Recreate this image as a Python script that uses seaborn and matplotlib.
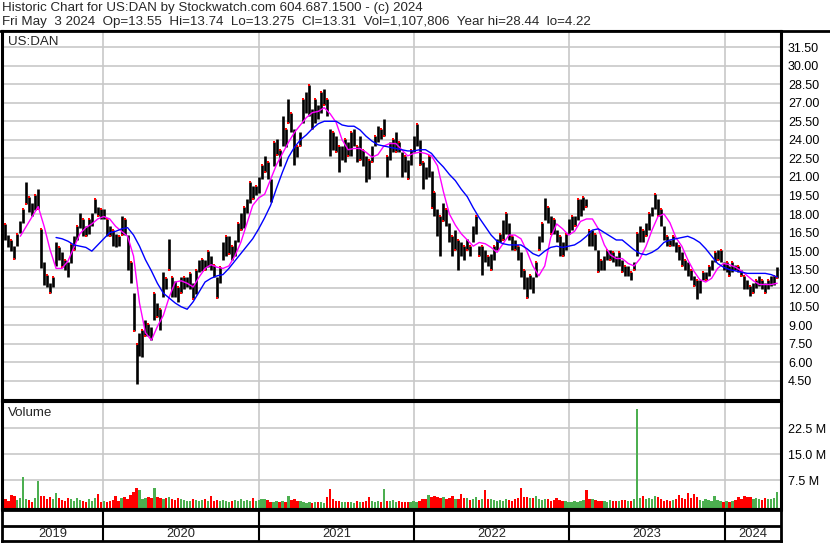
import numpy as np
import pandas as pd
import matplotlib
matplotlib.use('Agg')
import matplotlib.pyplot as plt
from matplotlib.lines import Line2D
import seaborn as sns

# weekly high / low (US:DAN, May 2019 - May 2024)
hi_1 = [18.1, 17.2, 16.3, 15.9, 15.4, 16.4, 17.4, 18.4, 20.6, 19.4, 18.9, 19.5, 20.0, 16.8, 14.1, 13.1, 12.4,
        12.9, 15.7, 15.3, 14.9, 14.3, 14.1, 15.6, 16.2, 17.0, 18.1, 17.6, 17.0, 17.6, 18.1, 19.2, 18.6, 18.4,
        18.4, 17.6, 17.0, 16.7, 16.4, 16.2, 17.8, 17.6, 16.3, 14.1, 11.6, 7.5, 8.4, 8.6, 9.4, 9.1, 8.9, 11.6,
        10.8, 10.3, 13.3, 12.8, 16.0, 12.9, 12.6, 12.1, 12.9, 12.9, 12.9, 13.2, 12.4]
lo_1 = [17.2, 15.9, 15.3, 15.0, 14.4, 15.4, 16.5, 17.3, 18.8, 18.2, 17.8, 18.3, 18.4, 13.6, 12.3, 12.1, 11.6,
        12.1, 13.8, 14.3, 13.7, 13.5, 12.9, 14.0, 15.1, 15.9, 16.9, 16.2, 16.2, 16.4, 17.0, 18.1, 17.8, 17.6,
        17.6, 16.2, 16.2, 15.4, 15.3, 15.4, 16.3, 16.3, 13.5, 12.4, 8.5, 4.22, 6.5, 6.4, 8.1, 8.1, 7.8, 9.4,
        9.7, 8.6, 11.3, 11.9, 13.5, 11.3, 11.3, 10.9, 11.6, 11.9, 12.1, 11.9, 11.1]
hi_2 = [13.5, 14.3, 14.4, 14.3, 15.0, 14.6, 13.9, 12.9, 13.7, 15.7, 16.2, 16.2, 15.4, 15.9, 17.3, 18.1, 18.6,
        19.2, 20.6, 20.3, 20.3, 21.0, 22.0, 22.7, 22.2, 20.8, 23.8, 24.1, 23.2, 25.9, 24.9, 27.3, 26.2, 24.9,
        23.5, 24.6, 27.3, 27.9, 28.44, 26.5, 27.3, 26.8, 27.9, 28.1, 27.3, 24.9, 24.6, 24.3, 23.5, 23.5, 24.1,
        23.8, 24.6, 24.9, 23.5, 24.3, 23.2, 22.7, 22.4, 23.5, 24.3, 25.1, 24.9, 25.7, 22.7]
lo_2 = [11.5, 13.3, 13.4, 13.5, 13.7, 13.5, 12.9, 11.2, 12.4, 14.3, 14.6, 14.8, 14.3, 14.6, 15.7, 16.7, 16.9,
        18.1, 18.9, 19.2, 19.5, 19.7, 20.8, 21.4, 20.8, 19.0, 21.9, 22.8, 21.9, 23.5, 23.4, 25.4, 24.6, 22.0,
        22.6, 23.5, 25.4, 26.2, 25.9, 24.9, 25.4, 25.7, 26.2, 26.8, 25.9, 22.7, 23.2, 23.0, 21.4, 22.4, 22.2,
        22.7, 22.7, 23.5, 22.2, 22.4, 21.9, 20.6, 20.8, 22.2, 23.5, 23.8, 24.1, 24.3, 21.0]
hi_3 = [23.8, 24.1, 24.6, 23.8, 23.0, 22.7, 22.4, 23.2, 24.3, 25.3, 24.0, 22.2, 21.8, 22.7, 21.5, 19.8, 18.4,
        17.8, 18.9, 18.4, 17.3, 16.2, 16.7, 15.9, 15.7, 15.4, 16.0, 15.4, 17.0, 17.8, 15.4, 15.4, 15.1, 14.6,
        14.8, 15.4, 16.0, 16.4, 17.5, 18.1, 17.3, 16.2, 15.9, 15.4, 14.9, 13.5, 12.9, 13.1, 12.9, 14.1, 16.2,
        17.3, 19.3, 18.6, 17.8, 17.6, 16.7, 16.2, 15.7, 16.4, 17.6, 17.8, 17.8, 19.2, 19.2]
lo_3 = [22.4, 23.0, 23.0, 23.0, 21.0, 21.4, 20.8, 22.0, 23.0, 23.5, 22.0, 20.0, 20.8, 21.0, 18.5, 17.8, 16.2,
        14.6, 17.4, 17.0, 15.7, 14.6, 15.1, 13.5, 14.6, 14.3, 15.1, 14.6, 15.7, 16.4, 14.6, 13.1, 14.1, 13.8,
        13.5, 14.3, 15.1, 15.7, 15.9, 16.4, 15.9, 15.1, 15.1, 14.3, 12.9, 11.9, 11.2, 11.9, 11.6, 12.9, 15.1,
        15.7, 17.5, 17.3, 16.4, 16.4, 15.7, 14.6, 14.6, 15.1, 16.4, 16.7, 17.0, 17.5, 17.8]
hi_4 = [19.4, 19.2, 16.7, 16.7, 16.4, 15.1, 14.3, 14.6, 15.1, 15.1, 14.9, 14.6, 14.9, 14.3, 13.8, 13.8, 13.3,
        14.1, 16.5, 17.0, 16.7, 17.3, 18.1, 18.6, 19.6, 19.2, 18.4, 17.0, 16.2, 15.9, 16.2, 15.7, 15.4, 14.9,
        14.3, 14.1, 13.5, 13.0, 12.7, 12.7, 13.3, 13.3, 13.8, 14.3, 14.9, 15.1, 15.1, 14.1, 14.1, 13.8, 14.1,
        13.9, 13.8, 13.5, 13.0, 12.7, 12.2, 12.4, 12.7, 13.0, 12.7, 12.4, 12.7, 13.0, 13.0, 13.74]
lo_4 = [18.3, 18.6, 15.4, 15.4, 15.1, 13.3, 13.5, 13.5, 14.3, 14.3, 14.1, 13.8, 13.8, 13.3, 13.0, 13.0, 12.7,
        13.5, 14.6, 15.7, 15.7, 16.2, 16.7, 17.8, 18.4, 17.8, 17.0, 15.9, 15.4, 15.4, 15.4, 14.9, 14.3, 13.8,
        13.5, 13.0, 12.7, 12.2, 11.1, 11.6, 12.7, 12.7, 13.0, 13.5, 14.1, 14.3, 14.1, 13.5, 13.3, 13.0, 13.3,
        13.5, 13.3, 13.0, 11.9, 11.9, 11.4, 11.6, 12.0, 12.2, 11.9, 11.6, 11.9, 12.2, 12.3, 12.8]

# weekly volume, millions of shares
vol_1 = [1.5, 2.0, 1.6, 3.4, 2.9, 1.8, 2.4, 8.4, 2.0, 1.7, 1.2, 2.5, 7.2, 3.0, 2.9, 2.2, 2.6, 2.0, 3.8, 2.3,
         1.9, 1.6, 2.4, 2.0, 1.6, 2.5, 1.8, 1.5, 1.3, 2.0, 1.6, 2.4, 3.5, 1.3, 1.4, 1.2, 1.6, 1.9, 3.0, 1.5,
         2.4, 2.6, 2.2, 3.2, 4.0, 5.2, 4.8, 2.0, 2.3, 2.6, 2.4, 5.2, 2.8, 2.3, 2.0, 2.4, 2.6, 2.0, 1.8, 2.5,
         2.2, 1.9, 1.6, 1.4, 2.2]
vol_2 = [1.8, 1.5, 1.7, 2.0, 1.4, 2.9, 1.6, 1.8, 1.5, 1.9, 1.4, 1.3, 1.6, 1.8, 1.4, 2.0, 1.5, 1.7, 1.4, 2.3,
         1.6, 1.9, 2.2, 2.0, 1.8, 1.3, 1.2, 1.4, 1.1, 1.5, 1.3, 2.9, 1.7, 2.0, 1.4, 1.5, 1.1, 1.0, 1.2, 1.0,
         1.3, 1.1, 1.2, 1.0, 2.6, 5.0, 2.0, 1.6, 1.4, 1.2, 1.1, 1.3, 1.2, 1.0, 1.4, 1.2, 1.3, 1.6, 2.6, 1.4,
         1.2, 1.5, 1.3, 5.0, 1.6]
vol_3 = [1.4, 1.7, 1.3, 1.5, 1.2, 1.3, 1.1, 1.2, 1.5, 1.3, 1.6, 2.0, 2.2, 3.3, 2.6, 3.0, 2.8, 2.4, 2.6, 2.0,
         2.3, 3.1, 2.2, 2.0, 3.5, 2.4, 2.3, 1.9, 2.0, 2.6, 1.7, 2.0, 4.7, 2.2, 2.0, 1.7, 1.6, 1.9, 1.5, 2.0,
         1.8, 1.6, 2.1, 2.5, 5.2, 2.8, 2.6, 2.3, 2.4, 3.0, 2.2, 1.8, 2.1, 2.0, 1.6, 1.9, 2.5, 1.8, 1.4, 1.5,
         1.3, 1.2, 1.5, 1.3, 1.6]
vol_4 = [1.8, 4.7, 2.0, 2.2, 1.8, 1.6, 1.4, 1.5, 1.3, 1.8, 1.5, 1.6, 1.4, 1.7, 1.9, 1.5, 1.6, 2.0, 28.0, 2.4,
         3.0, 2.2, 2.4, 2.0, 3.0, 2.6, 2.2, 1.6, 1.9, 1.5, 1.8, 2.0, 3.2, 2.4, 2.2, 3.8, 2.5, 3.6, 2.6, 1.8,
         1.6, 2.0, 1.8, 1.6, 3.0, 1.9, 1.5, 1.2, 1.4, 1.3, 1.6, 1.8, 2.6, 2.0, 3.0, 2.8, 2.6, 2.2, 2.4, 2.0,
         1.8, 2.3, 2.0, 2.2, 2.4, 4.0]

# moving averages, sampled every two weeks (magenta short, blue long)
ma_fast = [16.2, 17.0, 17.8, 18.6, 17.0, 15.1, 13.6, 13.6, 14.2, 15.3, 16.4, 16.9, 17.2, 17.6, 17.8, 17.6,
           17.0, 16.6, 16.2, 14.6, 10.8, 8.4, 7.8, 8.9, 9.8, 11.3, 12.5, 12.6, 12.4, 12.1, 12.9, 13.6, 13.9,
           13.7, 13.6, 13.8, 14.6, 15.7, 17.2, 18.7, 19.3, 19.6, 20.8, 22.0, 22.9, 23.8, 24.6, 25.2, 25.8,
           26.2, 26.3, 26.6, 26.1, 25.4, 24.0, 23.2, 23.3, 23.3, 23.0, 22.6, 22.8, 23.5, 23.7, 23.7, 23.2,
           22.7, 22.9, 23.0, 22.9, 22.7, 21.9, 19.8, 18.0, 17.1, 16.4, 15.9, 15.4, 15.7, 15.6, 15.3, 14.9,
           15.6, 16.3, 16.3, 16.0, 15.0, 13.8, 13.0, 13.8, 16.1, 17.2, 16.8, 16.3, 16.6, 17.4, 17.6, 17.6,
           16.8, 15.5, 14.7, 14.4, 14.4, 14.0, 13.8, 14.4, 15.4, 16.7, 17.8, 18.0, 17.3, 16.1, 15.4, 14.3,
           13.4, 12.7, 12.5, 12.8, 13.6, 14.0, 13.9, 13.7, 13.4, 13.0, 12.6, 12.3, 12.3, 12.3, 12.4]
ma_slow = [16.1, 16.0, 15.8, 15.5, 15.4, 15.3, 15.0, 15.5, 16.0, 16.5, 16.6, 16.8, 16.9, 16.3, 15.4, 14.3,
           13.4, 12.4, 11.6, 11.2, 10.8, 10.5, 10.3, 10.9, 11.7, 12.5, 12.8, 13.0, 13.1, 13.6, 14.2, 14.8,
           15.4, 16.0, 16.8, 17.7, 18.7, 20.1, 21.4, 22.6, 23.4, 24.0, 24.4, 24.9, 25.3, 25.5, 25.5, 25.5,
           25.2, 25.1, 25.1, 24.8, 24.3, 23.9, 23.6, 23.5, 23.4, 23.3, 23.2, 23.1, 23.1, 23.2, 23.2, 22.9,
           22.3, 21.8, 21.2, 20.7, 20.0, 19.4, 18.5, 17.7, 17.0, 16.3, 15.8, 15.6, 15.5, 15.5, 15.5, 15.2,
           14.8, 14.6, 15.0, 15.3, 15.4, 15.3, 15.4, 15.5, 15.8, 16.2, 16.7, 16.8, 16.5, 16.2, 15.9, 15.9,
           15.5, 15.1, 14.8, 14.7, 14.9, 15.2, 15.7, 15.9, 16.0, 16.1, 16.2, 16.0, 15.7, 15.2, 14.6, 14.0,
           13.7, 13.5, 13.4, 13.3, 13.2, 13.2, 13.2, 13.2, 13.1, 12.9]

years = ['2019', '2020', '2021', '2022', '2023', '2024']
price_ticks = [4.5, 6.0, 7.5, 9.0, 10.5, 12.0, 13.5, 15.0, 16.5, 18.0, 19.5, 21.0, 22.5, 24.0, 25.5, 27.0,
               28.5, 30.0, 31.5]
vol_ticks = [7.5, 15.0, 22.5]

title1 = 'Historic Chart for US:DAN by Stockwatch.com 604.687.1500 - (c) 2024'
title2 = 'Fri May  3 2024  Op=13.55  Hi=13.74  Lo=13.275  Cl=13.31  Vol=1,107,806  Year hi=28.44  lo=4.22'

df = pd.DataFrame({
    'date': pd.date_range('2019-05-10', periods=261, freq='W-FRI'),
    'hi': hi_1 + hi_2 + hi_3 + hi_4,
    'lo': lo_1 + lo_2 + lo_3 + lo_4,
    'vol': vol_1 + vol_2 + vol_3 + vol_4,
})
df['up'] = df['hi'].diff().fillna(0) >= 0
ma_dates = df['date'].iloc[::2].reset_index(drop=True)

sns.set_style('white')
plt.rcParams['font.family'] = ['Liberation Sans', 'DejaVu Sans']
FS_HEAD = 9.6
FS_TICK = 9.0

W, H = 830, 543
fig = plt.figure(figsize=(W / 100, H / 100), dpi=100)


def box(x0, y0, x1, y1):
    return [x0 / W, 1 - y1 / H, (x1 - x0) / W, (y1 - y0) / H]


ax_p = fig.add_axes(box(2, 31, 781, 400))
ax_v = fig.add_axes(box(2, 402, 781, 509))
ax_y = fig.add_axes(box(2, 510, 781, 541))

xmin, xmax = pd.Timestamp('2019-05-09'), pd.Timestamp('2024-05-12')
year_starts = [pd.Timestamp(y + '-01-01') for y in years[1:]]
grid_c = '#c8c8c8'

# price panel: high-low bars, red close ticks, two moving averages
ax_p.vlines(df['date'], df['lo'], df['hi'], color='black', lw=1.9)
ax_p.plot(df['date'][1::2], df['hi'][1::2], ls='none', marker='s', ms=2.0, mew=0, color='red')
ax_p.plot(df['date'][::4], df['lo'][::4], ls='none', marker='s', ms=2.0, mew=0, color='red')
sns.lineplot(x=ma_dates[3:], y=ma_fast, color='#ff00ff', lw=1.0, ax=ax_p)
sns.lineplot(x=ma_dates[9:], y=ma_slow, color='#0000ff', lw=1.0, ax=ax_p)
ax_p.set_ylim(2.96, 32.8)
ax_p.set_yticks(price_ticks)
ax_p.set_yticklabels([f'{t:.2f}' for t in price_ticks])

# volume panel
vpad = 0.78
ax_v.bar(df['date'], df['vol'] + vpad, bottom=-vpad, width=5.5,
         color=np.where(df['up'], '#4caf50', '#ff0000'), linewidth=0)
ax_v.set_ylim(-vpad, 30.1)
ax_v.set_yticks(vol_ticks)
ax_v.set_yticklabels([f'{t:.1f} M' for t in vol_ticks])

for ax in (ax_p, ax_v):
    ax.set_xlim(xmin, xmax)
    ax.set_xticks(year_starts)
    ax.set_xticklabels([])
    ax.set_axisbelow(True)
    ax.grid(True, color=grid_c, lw=1.2)
    ax.yaxis.tick_right()
    ax.tick_params(axis='y', length=0, pad=5, labelsize=FS_TICK, colors='black')
    ax.tick_params(axis='x', length=0)
    ax.set_xlabel('')
    ax.set_ylabel('')
    for s in ax.spines.values():
        s.set_visible(True)
        s.set_color('black')
        s.set_linewidth(1.5)
    ax.spines['left'].set_linewidth(2.2)
    ax.spines['right'].set_linewidth(2.2)

# year strip
ax_y.set_xlim(xmin, xmax)
ax_y.set_ylim(0, 1)
ax_y.axhline(0.47, color='black', lw=2)
ax_y.vlines(year_starts, 0, 1, color='black', lw=1.5)
edges = [xmin] + year_starts + [xmax]
for i, y in enumerate(years):
    mid = edges[i] + (edges[i + 1] - edges[i]) / 2
    ax_y.text(mid, 0.22, y, ha='center', va='center', fontsize=FS_TICK + 0.3)
ax_y.set_xticks([])
ax_y.set_yticks([])
for s in ax_y.spines.values():
    s.set_visible(True)
    s.set_color('black')
    s.set_linewidth(2)

# header
fig.text(2 / W, 1 - 8.5 / H, title1, fontsize=FS_HEAD, va='center', ha='left')
fig.text(2 / W, 1 - 21.5 / H, title2, fontsize=FS_HEAD, va='center', ha='left')
fig.add_artist(Line2D([0, 1], [1 - 30.5 / H] * 2, color='black', lw=2))
fig.text(8 / W, 1 - 42 / H, 'US:DAN', fontsize=FS_HEAD, va='center', ha='left')
fig.text(8 / W, 1 - 413 / H, 'Volume', fontsize=FS_HEAD, va='center', ha='left')

fig.savefig('out.png', dpi=100)
